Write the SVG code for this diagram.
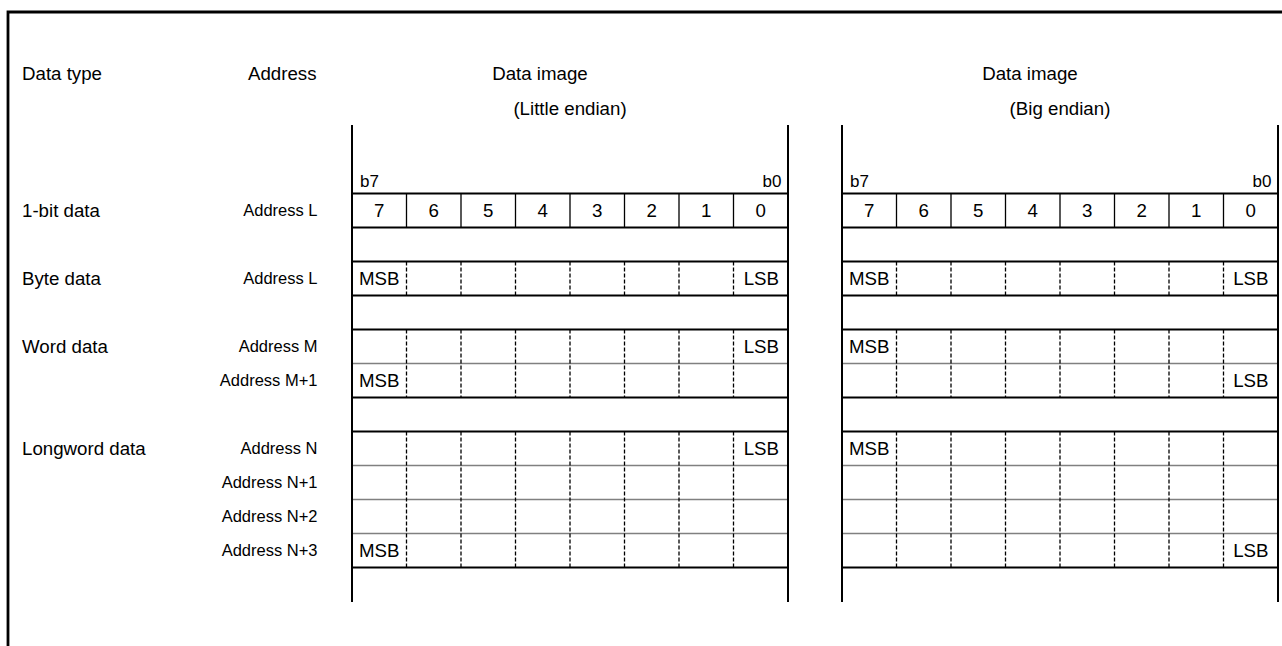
<svg xmlns="http://www.w3.org/2000/svg" xmlns:xlink="http://www.w3.org/1999/xlink" width="1282" height="646" viewBox="0 0 1282 646">
<style>
  text { font-family: "Liberation Sans", Arial, sans-serif; fill: #000; }
  .big { font-size: 18.7px; }
  .addr { font-size: 16.5px; text-anchor: end; }
  .bit { font-size: 17px; }
  .mid { text-anchor: middle; }
  .end { text-anchor: end; }
  .frame { fill: none; stroke: #000; stroke-width: 2.8; }
  .thick { stroke: #000; stroke-width: 2; fill: none; }
  .gray { stroke: #808080; stroke-width: 1.4; fill: none; }
  .sep { stroke: #000; stroke-width: 1.3; fill: none; }
  .dash { stroke: #000; stroke-width: 1.3; stroke-dasharray: 4 2; fill: none; }
</style>
<defs>
  <g id="grid">
    <path class="gray" d="M352 363.5H788M352 465.5H788M352 499.5H788M352 533.5H788"/>
    <path class="sep" d="M406.5 193.5V227.5M461 193.5V227.5M515.5 193.5V227.5M570 193.5V227.5M624.5 193.5V227.5M679 193.5V227.5M733.5 193.5V227.5"/>
    <path class="dash" d="M406.5 261.5V295.5M461 261.5V295.5M515.5 261.5V295.5M570 261.5V295.5M624.5 261.5V295.5M679 261.5V295.5M733.5 261.5V295.5"/>
    <path class="dash" d="M406.5 329.5V397.5M461 329.5V397.5M515.5 329.5V397.5M570 329.5V397.5M624.5 329.5V397.5M679 329.5V397.5M733.5 329.5V397.5"/>
    <path class="dash" d="M406.5 431.5V567.5M461 431.5V567.5M515.5 431.5V567.5M570 431.5V567.5M624.5 431.5V567.5M679 431.5V567.5M733.5 431.5V567.5"/>
    <path class="thick" d="M352 193.5H788M352 227.5H788M352 261.5H788M352 295.5H788M352 329.5H788M352 397.5H788M352 431.5H788M352 567.5H788"/>
    <path class="thick" d="M352 125V602M788 125V602"/>
    <text class="bit" x="360" y="186.5">b7</text>
    <text class="bit end" x="781.5" y="186.5">b0</text>
    <g class="big mid">
      <text x="379.25" y="216.7">7</text>
      <text x="433.75" y="216.7">6</text>
      <text x="488.25" y="216.7">5</text>
      <text x="542.75" y="216.7">4</text>
      <text x="597.25" y="216.7">3</text>
      <text x="651.75" y="216.7">2</text>
      <text x="706.25" y="216.7">1</text>
      <text x="760.75" y="216.7">0</text>
    </g>
  </g>
</defs>

<path id="frame" class="frame" d="M8 646V12H1282"/>

<g id="headers" class="big">
  <text x="22" y="80">Data type</text>
  <text x="248" y="80">Address</text>
  <text class="mid" x="540" y="80">Data image</text>
  <text class="mid" x="570" y="114.5">(Little endian)</text>
  <text class="mid" x="1030" y="80">Data image</text>
  <text class="mid" x="1060" y="114.5">(Big endian)</text>
</g>

<g id="row-labels">
  <text class="big" x="22" y="216.5">1-bit data</text>
  <text class="big" x="22" y="284.5">Byte data</text>
  <text class="big" x="22" y="352.5">Word data</text>
  <text class="big" x="22" y="454.5">Longword data</text>
  <text class="addr" x="317.5" y="216">Address L</text>
  <text class="addr" x="317.5" y="284">Address L</text>
  <text class="addr" x="317.5" y="352">Address M</text>
  <text class="addr" x="317.5" y="386">Address M+1</text>
  <text class="addr" x="317.5" y="454">Address N</text>
  <text class="addr" x="317.5" y="488">Address N+1</text>
  <text class="addr" x="317.5" y="522">Address N+2</text>
  <text class="addr" x="317.5" y="556">Address N+3</text>
</g>

<g id="little-endian">
  <use xlink:href="#grid" href="#grid"/>
  <g class="big">
    <text x="359" y="284.5">MSB</text>
    <text class="end" x="779" y="284.5">LSB</text>
    <text class="end" x="779" y="352.5">LSB</text>
    <text x="359" y="386.5">MSB</text>
    <text class="end" x="779" y="454.5">LSB</text>
    <text x="359" y="556.5">MSB</text>
  </g>
</g>

<g id="big-endian">
  <use xlink:href="#grid" href="#grid" x="490"/>
  <g class="big">
    <text x="849" y="284.5">MSB</text>
    <text class="end" x="1268.5" y="284.5">LSB</text>
    <text x="849" y="352.5">MSB</text>
    <text class="end" x="1268.5" y="386.5">LSB</text>
    <text x="849" y="454.5">MSB</text>
    <text class="end" x="1268.5" y="556.5">LSB</text>
  </g>
</g>
</svg>
